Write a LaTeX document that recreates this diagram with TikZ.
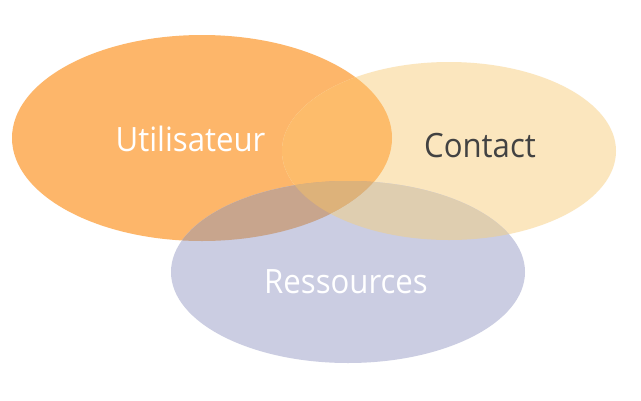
\documentclass[tikz,border=0pt]{standalone}
\usepackage{fontspec}
\setmainfont{Open Sans}
\definecolor{cO}{HTML}{FDB66A}
\definecolor{cY}{HTML}{FBE6BE}
\definecolor{cB}{HTML}{CBCDE2}
\definecolor{cOY}{HTML}{FDBC6B}
\definecolor{cOB}{HTML}{C8A58D}
\definecolor{cYB}{HTML}{DFCEB0}
\definecolor{cOYB}{HTML}{DDB27A}
\definecolor{cText}{HTML}{424242}
\newcommand{\lbltext}[1]{\scalebox{0.93}[1]{#1}}
\tikzset{
  label/.style={font=\fontsize{33.5}{33.5}\selectfont, inner sep=0pt, anchor=base},
}
\begin{document}
\begin{tikzpicture}[x=1pt,y=-1pt]
\useasboundingbox (0,0) rectangle (641,400);
\fill[white] (0,0) rectangle (641,400);
\def\ellO{(202,138) ellipse [x radius=190, y radius=103]}
\def\ellY{(449,151) ellipse [x radius=167, y radius=89]}
\def\ellB{(348,272) ellipse [x radius=177, y radius=91]}
\fill[cO] \ellO;
\fill[cY] \ellY;
\fill[cB] \ellB;
\begin{scope}
  \clip \ellO;
  \fill[cOY] \ellY;
  \fill[cOB] \ellB;
  \clip \ellY;
  \fill[cOYB] \ellB;
\end{scope}
\begin{scope}
  \clip \ellY;
  \begin{scope}[even odd rule]
    \clip \ellB;
    \clip (0,0) rectangle (641,400) \ellO;
    \fill[cYB] (0,0) rectangle (641,400);
  \end{scope}
\end{scope}
\node[label, text=white] (u) at (190.5,151) {\lbltext{Utilisateur}};
\node[label, text=cText] (c) at (480,157) {\lbltext{Contact}};
\node[label, text=white] (r) at (346,293) {\lbltext{Ressources}};
\end{tikzpicture}
\end{document}
